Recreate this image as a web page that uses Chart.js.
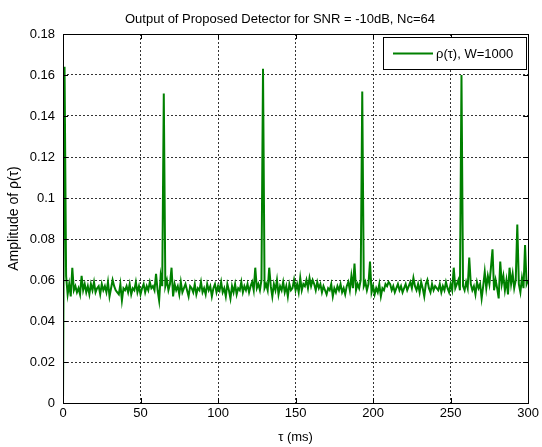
<!DOCTYPE html>
<html>
<head>
<meta charset="utf-8">
<script src="https://cdn.jsdelivr.net/npm/chart.js@4/dist/chart.umd.min.js"></script>
<style>
  body { margin: 0; background: #fff; }
  canvas { display: block; }
</style>
</head>
<body>
<canvas id="chart__detector" width="542" height="447"></canvas>
<script>
// detector output rho(tau), one sample per ms
const tauStart = 0;
const tauStep = 1;
const rho = [
    0.000, 0.164, 0.062, 0.053, 0.058, 0.052, 0.066, 0.055, 0.057, 0.054,
    0.056, 0.053, 0.062, 0.055, 0.058, 0.054, 0.057, 0.053, 0.058, 0.055,
    0.059, 0.054, 0.056, 0.057, 0.053, 0.058, 0.055, 0.057, 0.054, 0.059,
    0.052, 0.056, 0.060, 0.057, 0.055, 0.054, 0.053, 0.058, 0.050, 0.056,
    0.055, 0.057, 0.054, 0.058, 0.053, 0.056, 0.055, 0.059, 0.054, 0.057,
    0.053, 0.056, 0.058, 0.054, 0.057, 0.055, 0.059, 0.056, 0.057, 0.055,
    0.063, 0.055, 0.050, 0.062, 0.057, 0.151, 0.057, 0.060, 0.055, 0.058,
    0.066, 0.052, 0.058, 0.055, 0.057, 0.053, 0.059, 0.054, 0.056, 0.058,
    0.055, 0.052, 0.057, 0.056, 0.054, 0.058, 0.053, 0.056, 0.055, 0.059,
    0.054, 0.056, 0.053, 0.058, 0.055, 0.057, 0.052, 0.056, 0.058, 0.054,
    0.057, 0.055, 0.059, 0.054, 0.056, 0.052, 0.058, 0.055, 0.051, 0.057,
    0.054, 0.058, 0.053, 0.056, 0.055, 0.059, 0.054, 0.057, 0.055, 0.058,
    0.054, 0.057, 0.059, 0.055, 0.066, 0.056, 0.058, 0.055, 0.060, 0.163,
    0.056, 0.058, 0.055, 0.066, 0.057, 0.052, 0.058, 0.055, 0.060, 0.053,
    0.057, 0.055, 0.059, 0.054, 0.057, 0.052, 0.058, 0.055, 0.056, 0.060,
    0.055, 0.058, 0.054, 0.061, 0.055, 0.058, 0.057, 0.060, 0.056, 0.061,
    0.057, 0.060, 0.058, 0.055, 0.059, 0.056, 0.058, 0.054, 0.057, 0.055,
    0.053, 0.056, 0.055, 0.058, 0.052, 0.056, 0.054, 0.057, 0.055, 0.058,
    0.054, 0.056, 0.053, 0.057, 0.059, 0.055, 0.062, 0.056, 0.068, 0.055,
    0.058, 0.056, 0.060, 0.152, 0.057, 0.059, 0.055, 0.058, 0.069, 0.054,
    0.057, 0.053, 0.056, 0.054, 0.058, 0.052, 0.056, 0.055, 0.058, 0.057,
    0.059, 0.058, 0.055, 0.057, 0.054, 0.056, 0.058, 0.055, 0.057, 0.054,
    0.056, 0.058, 0.055, 0.057, 0.059, 0.056, 0.061, 0.057, 0.055, 0.058,
    0.054, 0.059, 0.056, 0.052, 0.058, 0.060, 0.056, 0.054, 0.058, 0.055,
    0.057, 0.056, 0.055, 0.058, 0.054, 0.057, 0.055, 0.059, 0.056, 0.054,
    0.058, 0.055, 0.066, 0.056, 0.058, 0.060, 0.055, 0.160, 0.057, 0.055,
    0.059, 0.056, 0.071, 0.058, 0.055, 0.057, 0.053, 0.059, 0.056, 0.058,
    0.051, 0.057, 0.064, 0.056, 0.062, 0.058, 0.066, 0.075, 0.055, 0.060,
    0.056, 0.051, 0.069, 0.058, 0.062, 0.055, 0.060, 0.053, 0.066, 0.058,
    0.063, 0.056, 0.060, 0.087, 0.058, 0.054, 0.061, 0.056, 0.077, 0.058,
    0.060
];
const xTicks = [0, 50, 100, 150, 200, 250, 300];
const yTicks = [0, 0.02, 0.04, 0.06, 0.08, 0.1, 0.12, 0.14, 0.16, 0.18];

const seriesLabel = 'ρ(τ), W=1000';
const titleText = 'Output of Proposed Detector for SNR = -10dB, Nc=64';
const xTitle = 'τ (ms)';
const yTitle = 'Amplitude of ρ(τ)';

const FONT = "'Liberation Sans', Arial, sans-serif";
const GREEN = '#008000';

const points = rho.map((v, i) => ({ x: tauStart + i * tauStep, y: v }));

// title, axes box, inward ticks and legend drawn the matlab way
const matlabFrame = {
    id: 'matlabFrame',
    afterDatasetsDraw (chart) {
        const { ctx, chartArea: a, scales } = chart;
        ctx.save();
        ctx.strokeStyle = '#000';
        ctx.lineWidth = 1;
        ctx.beginPath();
        xTicks.forEach(t => {
            const px = Math.round(scales.x.getPixelForValue(t)) + 0.5;
            ctx.moveTo(px, a.bottom); ctx.lineTo(px, a.bottom - 5);
            ctx.moveTo(px, a.top); ctx.lineTo(px, a.top + 5);
        });
        yTicks.forEach(t => {
            const py = Math.round(scales.y.getPixelForValue(t)) + 0.5;
            ctx.moveTo(a.left, py); ctx.lineTo(a.left + 5, py);
            ctx.moveTo(a.right, py); ctx.lineTo(a.right - 5, py);
        });
        ctx.stroke();
        ctx.strokeRect(Math.round(a.left) + 0.5, Math.round(a.top) + 0.5,
            Math.round(a.right - a.left), Math.round(a.bottom - a.top));
        ctx.restore();
    },
    afterDraw (chart) {
        const { ctx } = chart;
        ctx.save();
        ctx.fillStyle = '#000';
        ctx.font = '13px ' + FONT;
        ctx.textAlign = 'center';
        ctx.textBaseline = 'alphabetic';
        ctx.fillText(titleText, 280, 23);

        // legend box
        const lx = 383.5, ly = 37.5, lw = 143, lh = 32;
        ctx.fillStyle = '#fff';
        ctx.fillRect(lx, ly, lw, lh);
        ctx.strokeStyle = '#000';
        ctx.lineWidth = 1;
        ctx.strokeRect(lx, ly, lw, lh);
        ctx.strokeStyle = GREEN;
        ctx.lineWidth = 2;
        ctx.beginPath();
        ctx.moveTo(393, 53.5);
        ctx.lineTo(433, 53.5);
        ctx.stroke();
        ctx.fillStyle = '#000';
        ctx.font = '13px ' + FONT;
        ctx.textAlign = 'left';
        ctx.fillText(seriesLabel, 436, 58);
        ctx.restore();
    }
};

new Chart(document.getElementById('chart__detector'), {
    type: 'line',
    data: {
        datasets: [{
            label: seriesLabel,
            data: points,
            borderColor: GREEN,
            borderWidth: 2,
            pointRadius: 0,
            tension: 0,
            fill: false
        }]
    },
    options: {
        responsive: false,
        animation: false,
        layout: { padding: { top: 34, right: 12, bottom: 0, left: 0 } },
        plugins: {
            legend: { display: false },
            tooltip: { enabled: false },
            title: { display: false }
        },
        scales: {
            x: {
                type: 'linear',
                min: 0,
                max: 300,
                afterFit: (scale) => { scale.height = 44; },
                afterBuildTicks: (scale) => { scale.ticks = xTicks.map(v => ({ value: v })); },
                ticks: {
                    color: '#000',
                    font: { family: FONT, size: 13 },
                    padding: 3,
                    maxRotation: 0,
                    autoSkip: false
                },
                grid: { color: '#333', drawTicks: false, lineWidth: 1 },
                border: { display: false, dash: [2, 2] },
                title: {
                    display: true,
                    text: xTitle,
                    color: '#000',
                    font: { family: FONT, size: 13 },
                    padding: { top: 0, bottom: 2 }
                }
            },
            y: {
                min: 0,
                max: 0.18,
                afterFit: (scale) => { scale.width = 63; },
                afterBuildTicks: (scale) => { scale.ticks = yTicks.map(v => ({ value: v })); },
                ticks: {
                    color: '#000',
                    font: { family: FONT, size: 13 },
                    padding: 8,
                    autoSkip: false,
                    callback: (v) => String(+v.toFixed(2))
                },
                grid: { color: '#333', drawTicks: false, lineWidth: 1 },
                border: { display: false, dash: [2, 2] },
                title: {
                    display: true,
                    text: yTitle,
                    color: '#000',
                    font: { family: FONT, size: 14 },
                    padding: { top: 6, bottom: 0 }
                }
            }
        }
    },
    plugins: [matlabFrame]
});
</script>
</body>
</html>
